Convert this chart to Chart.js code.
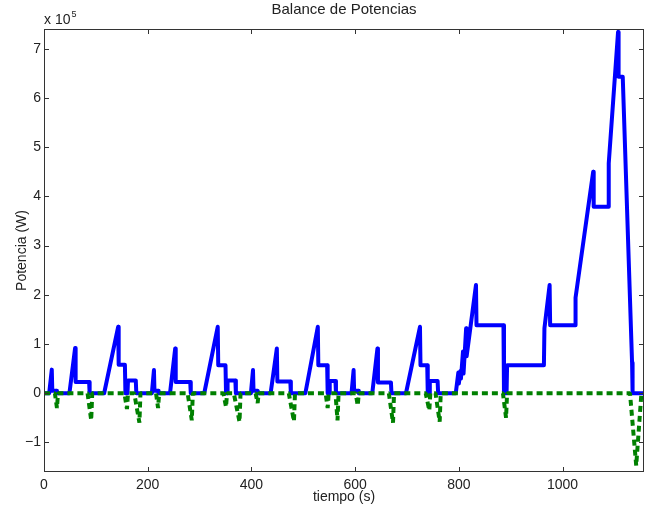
<!DOCTYPE html>
<html><head><meta charset="utf-8">
<script src="https://cdn.jsdelivr.net/npm/chart.js@4.4.0/dist/chart.umd.min.js"></script>
<style>html,body{margin:0;padding:0;background:#fff;}canvas{display:block;}</style>
</head><body>
<canvas id="c" width="663" height="515" style="width:663px;height:515px"></canvas>
<script>
// ---- data ----
const chartTitle = 'Balance de Potencias';
const xTitle = 'tiempo (s)';
const yTitle = 'Potencia (W)';
const xTicks = [0, 200, 400, 600, 800, 1000];
const yTicks = [-100000, 0, 100000, 200000, 300000, 400000, 500000, 600000, 700000];
const xRange = [0, 1157];
const yRange = [-160000, 740000];

// positive power (blue, solid)
const tBlue = [0,10,15,16,24,25,49,60,61,87,88,116,143,144,156,157,161,162,177,178,
  208,212,213,220,221,243,253,254,282,283,309,335,336,350,351,353,354,369,370,
  399,403,404,412,413,437,449,450,475,476,504,528,529,546,547,550,551,562,563,
  593,597,598,606,607,633,643,644,669,670,698,725,726,739,740,743,744,759,760,
  794,799,800,803,804,808,809,814,815,833,834,886,887,892,893,964,965,975,976,1024,1025,
  1059,1060,1088,1089,1107,1108,1116,1134,1135,1157];
const pBlue = [0,0,48000,5000,5000,0,0,92000,23000,23000,0,0,135000,58000,58000,0,0,26000,26000,0,
  0,47000,5000,5000,0,0,91000,23000,23000,0,0,135000,57000,57000,0,0,26000,26000,0,
  0,47000,5000,5000,0,0,91000,24000,24000,0,0,135000,57000,57000,0,0,25000,25000,0,
  0,47000,5000,5000,0,0,91000,22000,22000,0,0,135000,57000,57000,0,0,25000,25000,0,
  0,42000,20000,45000,30000,85000,40000,132000,75000,220000,138000,138000,0,0,57000,57000,132000,220000,138000,138000,194000,
  450000,379000,379000,467000,734000,643000,643000,62000,0,0];

// negative power (green, dashed)
const tGreen = [0,21,25,27,84,91,93,155,160,162,174,184,186,
  216,220,222,277,285,287,346,351,353,366,377,379,
  408,412,414,472,482,484,543,547,549,562,566,568,
  601,605,607,665,673,675,736,743,745,755,763,765,
  885,891,893,1130,1142,1152,1157];
const pGreen = [0,0,-30000,0,0,-55000,0,0,-32000,0,0,-60000,0,
  0,-30000,0,0,-55000,0,0,-28000,0,0,-58000,0,
  0,-20000,0,0,-57000,0,0,-30000,0,0,-55000,0,
  0,-25000,0,0,-60000,0,0,-35000,0,0,-58000,0,
  0,-50000,0,0,-147000,0,0];

// ---- chart ----
const FONT = '"Liberation Sans Narrow", "Arial Narrow", "Liberation Sans", Arial, sans-serif';
const TXT = '#222';
const toPts = (t, p) => t.map((v, i) => ({x: v, y: p[i]}));

const framePlugin = {
  id: 'frame',
  afterDatasetsDraw(chart) {
    const {ctx, chartArea: a, scales: {x, y}} = chart;
    ctx.save();
    ctx.strokeStyle = '#333';
    ctx.lineWidth = 1;
    ctx.strokeRect(a.left + 0.5, a.top + 0.5, a.right - a.left - 1, a.bottom - a.top - 1);
    const L = 5;
    ctx.beginPath();
    xTicks.forEach(v => {
      const px = Math.round(x.getPixelForValue(v)) + 0.5;
      ctx.moveTo(px, a.bottom); ctx.lineTo(px, a.bottom - L);
      ctx.moveTo(px, a.top); ctx.lineTo(px, a.top + L);
    });
    yTicks.forEach(v => {
      const py = Math.round(y.getPixelForValue(v)) + 0.5;
      ctx.moveTo(a.left, py); ctx.lineTo(a.left + L, py);
      ctx.moveTo(a.right, py); ctx.lineTo(a.right - L, py);
    });
    ctx.stroke();
    ctx.restore();
  },
  afterDraw(chart) {
    const {ctx, chartArea: a} = chart;
    ctx.save();
    ctx.fillStyle = TXT;
    ctx.textAlign = 'center';
    ctx.textBaseline = 'middle';
    ctx.font = '15px ' + FONT;
    ctx.fillText(chartTitle, (a.left + a.right) / 2, 10);
    ctx.font = '14px ' + FONT;
    ctx.fillText(xTitle, (a.left + a.right) / 2, 497);
    ctx.save();
    ctx.translate(22, (a.top + a.bottom) / 2);
    ctx.rotate(-Math.PI / 2);
    ctx.fillText(yTitle, 0, 0);
    ctx.restore();
    ctx.textAlign = 'left';
    ctx.textBaseline = 'alphabetic';
    ctx.font = '14px ' + FONT;
    ctx.fillText('x 10', 44, 24);
    const w = ctx.measureText('x 10').width;
    ctx.font = '9px ' + FONT;
    ctx.fillText('5', 44 + w + 1, 17);
    ctx.restore();
  }
};

new Chart(document.getElementById('c'), {
  type: 'line',
  data: {
    datasets: [
      {
        label: 'negativa',
        data: toPts(tGreen, pGreen),
        borderColor: '#008000',
        borderWidth: 4,
        borderDash: [6, 4],
        borderCapStyle: 'butt',
        borderJoinStyle: 'bevel',
        pointRadius: 0,
        fill: false,
        tension: 0
      },
      {
        label: 'positiva',
        data: toPts(tBlue, pBlue),
        borderColor: '#0000ff',
        borderWidth: 4,
        borderJoinStyle: 'round',
        borderCapStyle: 'butt',
        pointRadius: 0,
        fill: false,
        tension: 0
      }
    ]
  },
  options: {
    responsive: false,
    animation: false,
    layout: {padding: {top: 29, right: 19, left: 0, bottom: 0}},
    plugins: {legend: {display: false}, tooltip: {enabled: false}, title: {display: false}},
    scales: {
      x: {
        type: 'linear', min: xRange[0], max: xRange[1],
        grid: {display: false, drawTicks: false},
        border: {display: false},
        afterBuildTicks: s => { s.ticks = xTicks.map(v => ({value: v})); },
        afterFit: s => { s.height = 43; },
        ticks: {font: {family: FONT, size: 14}, color: TXT, padding: 5, maxRotation: 0, autoSkip: false,
          callback: v => String(v)}
      },
      y: {
        type: 'linear', min: yRange[0], max: yRange[1],
        grid: {display: false, drawTicks: false},
        border: {display: false},
        afterBuildTicks: s => { s.ticks = yTicks.map(v => ({value: v})); },
        afterFit: s => { s.width = 44; },
        ticks: {font: {family: FONT, size: 14}, color: TXT, padding: 3, autoSkip: false,
          callback: v => String(v / 100000).replace('-', '\u2212')}
      }
    }
  },
  plugins: [framePlugin]
});
</script></body></html>
